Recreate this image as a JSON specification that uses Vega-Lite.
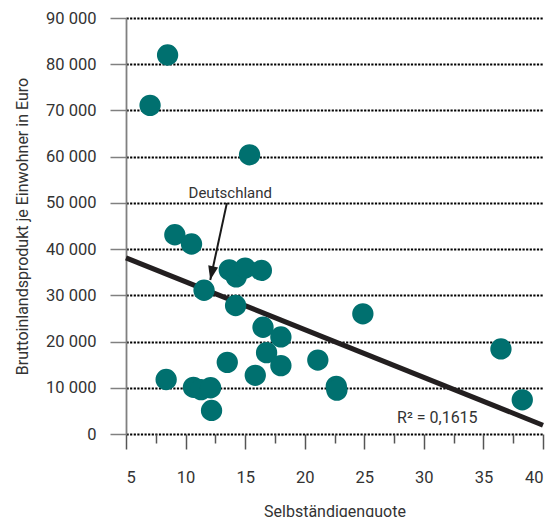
{
  "$schema": "https://vega.github.io/schema/vega-lite/v6.json",
  "width": 417,
  "height": 416,
  "autosize": {"type": "none"},
  "padding": {"left": 126, "top": 18, "right": 9, "bottom": 83},
  "config": {
    "view": {"stroke": null},
    "font": "Roboto",
    "axis": {"labelFont": "Roboto", "titleFont": "Roboto", "labelColor": "#333333", "titleColor": "#333333", "titleFontWeight": "normal"}
  },
  "datasets": {
    "points": [
      {"x": 8.49, "y": 82000}, {"x": 7.02, "y": 71100}, {"x": 15.37, "y": 60400},
      {"x": 9.1, "y": 43100}, {"x": 10.5, "y": 41100}, {"x": 8.37, "y": 11800},
      {"x": 10.66, "y": 10100}, {"x": 11.3, "y": 9600}, {"x": 12.1, "y": 10000},
      {"x": 12.18, "y": 5100}, {"x": 11.55, "y": 31100}, {"x": 13.5, "y": 15500},
      {"x": 14.2, "y": 27800}, {"x": 15.85, "y": 12700}, {"x": 16.5, "y": 23100},
      {"x": 13.67, "y": 35500}, {"x": 14.25, "y": 34000}, {"x": 15.0, "y": 35900},
      {"x": 16.36, "y": 35400}, {"x": 16.8, "y": 17600}, {"x": 18.0, "y": 21000},
      {"x": 18.0, "y": 14800}, {"x": 21.1, "y": 16000}, {"x": 22.65, "y": 10300},
      {"x": 22.7, "y": 9500}, {"x": 24.88, "y": 26000}, {"x": 36.47, "y": 18400},
      {"x": 38.26, "y": 7400}
    ],
    "trend": [{"x": 5, "y": 38100}, {"x": 40, "y": 1900}],
    "arrow": [{"x": 13.47, "y": 50000, "x2": 12.07, "y2": 33300}],
    "labels": [
      {"x": 13.75, "y": 51000, "label": "Deutschland", "align": "center"}
    ],
    "r2": [{"x": 27.75, "y": 2450, "label": "R² = 0,1615"}]
  },
  "encoding": {
    "x": {
      "field": "x", "type": "quantitative",
      "scale": {"domain": [5, 40], "nice": false, "zero": false},
      "axis": {
        "title": "Selbständigenquote",
        "titleFontSize": 16,
        "titleBaseline": "alphabetic",
        "titleY": 82,
        "values": [5, 7.5, 10, 12.5, 15, 17.5, 20, 22.5, 25, 27.5, 30, 32.5, 35, 37.5, 40],
        "labelExpr": "datum.value % 5 === 0 ? datum.label : ''",
        "labelFontSize": 16.5,
        "labelPadding": 20,
        "tickSize": {"condition": {"test": "datum.value % 5 === 0", "value": 15}, "value": 9},
        "tickColor": "#555555",
        "tickWidth": 1.5,
        "domain": false,
        "grid": false
      }
    },
    "y": {
      "field": "y", "type": "quantitative",
      "scale": {"domain": [0, 90000], "nice": false, "zero": true},
      "axis": {
        "title": "Bruttoinlandsprodukt je Einwohner in Euro",
        "titleFontSize": 16,
        "titleX": -96,
        "titleBaseline": "bottom",
        "values": [0, 10000, 20000, 30000, 40000, 50000, 60000, 70000, 80000, 90000],
        "labelExpr": "replace(format(datum.value, ','), ',', ' ')",
        "labelFontSize": 16.5,
        "labelPadding": 14,
        "tickSize": 16,
        "tickColor": "#808080",
        "tickWidth": 1.5,
        "domain": true,
        "domainColor": "#808080",
        "domainWidth": 1.8,
        "grid": true,
        "gridColor": "#000000",
        "gridDash": [2.2, 1.4],
        "gridWidth": 2,
        "gridOpacity": 1
      }
    }
  },
  "layer": [
    {
      "data": {"name": "trend"},
      "mark": {"type": "line", "color": "#231f20", "strokeWidth": 5, "strokeCap": "butt"},
      "encoding": {}
    },
    {
      "data": {"name": "points"},
      "mark": {"type": "circle", "size": 455, "color": "#00706f", "opacity": 1},
      "encoding": {}
    },
    {
      "data": {"name": "arrow"},
      "mark": {"type": "rule", "color": "#1a1a1a", "strokeWidth": 2},
      "encoding": {"x2": {"field": "x2"}, "y2": {"field": "y2"}}
    },
    {
      "data": {"name": "arrow"},
      "mark": {"type": "point", "shape": "M0,0L-0.5,-1.4L0.5,-1.4Z", "size": 400, "filled": true, "color": "#1a1a1a", "opacity": 1, "angle": 12},
      "encoding": {"x": {"field": "x2", "type": "quantitative"}, "y": {"field": "y2", "type": "quantitative"}}
    },
    {
      "data": {"name": "labels"},
      "mark": {"type": "text", "fontSize": 15, "color": "#333333", "align": "center", "baseline": "alphabetic", "font": "Roboto"},
      "encoding": {"text": {"field": "label"}}
    },
    {
      "data": {"name": "r2"},
      "mark": {"type": "text", "fontSize": 16, "color": "#333333", "align": "left", "baseline": "alphabetic", "font": "Roboto"},
      "encoding": {"text": {"field": "label"}}
    }
  ]
}
